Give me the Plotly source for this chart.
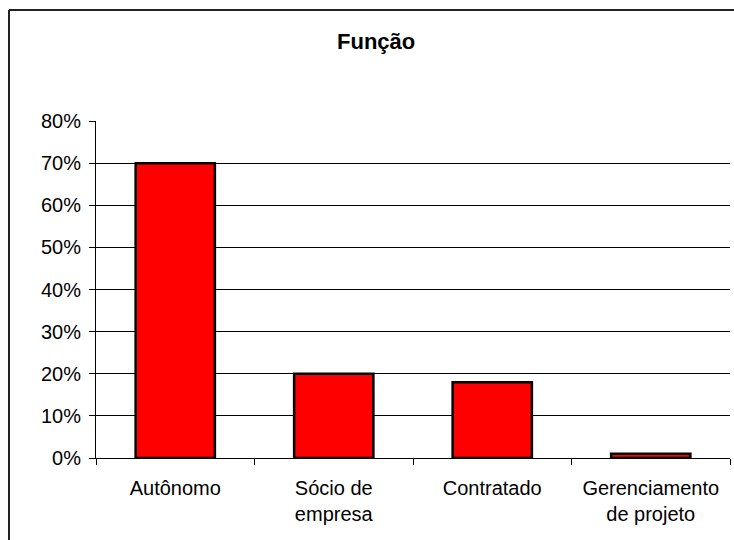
import plotly.graph_objects as go

categories = ["Autônomo", "Sócio de<br>empresa", "Contratado", "Gerenciamento<br>de projeto"]
values = [70, 20, 18, 1]
y_ticks = [0, 10, 20, 30, 40, 50, 60, 70, 80]
y_tick_labels = [f"{v}%" for v in y_ticks]
title = "Função"

W, H = 734, 540
L, R, T, B = 96, 4, 121, 82
pw, ph = W - L - R, H - T - B

def px_x(p):
    return (p - L) / pw

def px_y(p):
    return (H - B - p) / ph

fig = go.Figure()
fig.add_trace(go.Bar(
    x=categories, y=values,
    marker=dict(color="#FF0000", line=dict(color="#000000", width=2.5)),
    width=0.5,
))

font = "Liberation Sans, Arial, sans-serif"
fig.update_layout(
    width=W, height=H,
    margin=dict(l=L, r=R, t=T, b=B),
    paper_bgcolor="white", plot_bgcolor="white",
    showlegend=False,
    font=dict(family=font, size=20, color="#000000"),
    xaxis=dict(
        type="category", tickson="boundaries", ticks="outside", ticklen=6,
        tickcolor="#000000", showline=True, linecolor="#000000", linewidth=1,
        showgrid=False, tickfont=dict(size=20), range=[-0.5, 3.5],
        ticklabelstandoff=12,
    ),
    yaxis=dict(
        range=[0, 80], tickvals=y_ticks, ticktext=y_tick_labels,
        ticks="outside", ticklen=6, tickcolor="#000000",
        showline=True, linecolor="#000000", linewidth=1,
        showgrid=True, gridcolor="#000000", gridwidth=1,
        zeroline=False, tickfont=dict(size=20), ticklabelstandoff=4,
    ),
    bargap=0.5,
)

frame = dict(color="#222222", width=2)
fig.add_shape(type="line", xref="paper", yref="paper",
              x0=px_x(9), x1=px_x(760), y0=px_y(10), y1=px_y(10), line=frame)
fig.add_shape(type="line", xref="paper", yref="paper",
              x0=px_x(9), x1=px_x(9), y0=px_y(10), y1=px_y(560), line=frame)

fig.add_annotation(
    text=f"<b>{title}</b>", xref="paper", yref="paper",
    x=px_x(376), y=px_y(41), xanchor="center", yanchor="middle",
    showarrow=False, font=dict(family=font, size=22, color="#000000"),
)

fig.write_html("out.html")
